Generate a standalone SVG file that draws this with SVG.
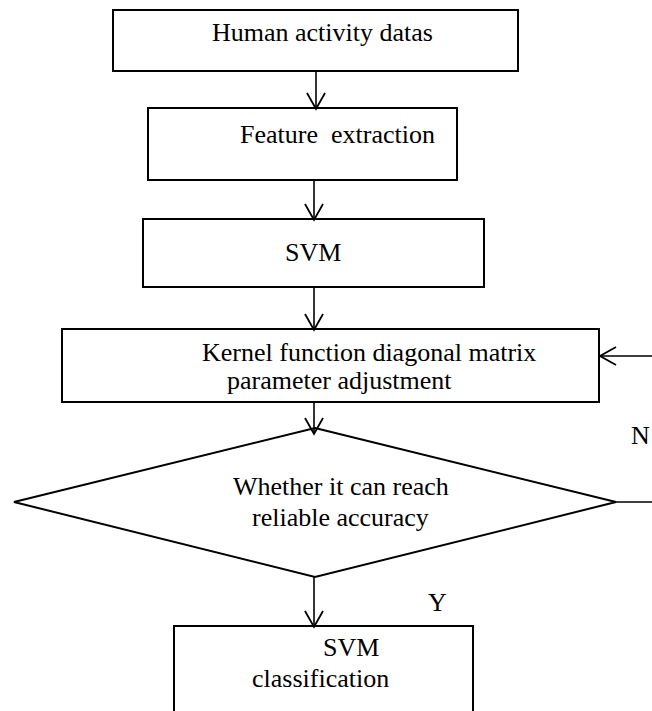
<svg xmlns="http://www.w3.org/2000/svg" width="652" height="711" viewBox="0 0 652 711">
<style>
.box{fill:#fff;stroke:#000;stroke-width:2}
.t{font-family:"Liberation Serif","Times New Roman",serif;font-size:26px;fill:#000;white-space:pre}
.c{fill:none;stroke:#000;stroke-width:1.6}
</style>
<defs>
<marker id="ah" viewBox="0 0 20 20" refX="17" refY="10" markerWidth="20" markerHeight="20" markerUnits="userSpaceOnUse" orient="auto">
<path d="M1,1 L17,10 L1,19" fill="none" stroke="#000" stroke-width="1.8"/>
</marker>
</defs>
<rect width="652" height="711" fill="#fff"/>
<g id="n1"><rect class="box" x="113" y="10" width="405" height="61"/><text class="t" x="212" y="41">Human activity datas</text></g>
<g id="n2"><rect class="box" x="148" y="108" width="309" height="72"/><text class="t" x="240" y="143">Feature  extraction</text></g>
<g id="n3"><rect class="box" x="143" y="219" width="341" height="68"/><text class="t" x="285" y="261">SVM</text></g>
<g id="n4"><rect class="box" x="62" y="329" width="537" height="73"/><text class="t" x="202" y="361">Kernel function diagonal matrix</text><text class="t" x="227" y="389">parameter adjustment</text></g>
<g id="n5"><polygon class="box" points="315,428 616,502 315,577 14,502"/><text class="t" x="233" y="495">Whether it can reach</text><text class="t" x="252" y="526">reliable accuracy</text></g>
<g id="n6"><rect class="box" x="174" y="626" width="299" height="100"/><text class="t" x="323" y="656">SVM</text><text class="t" x="252" y="687">classification</text></g>
<g id="connectors">
<line class="c" x1="316" y1="71" x2="316" y2="109" marker-end="url(#ah)"/>
<line class="c" x1="314" y1="180" x2="314" y2="220" marker-end="url(#ah)"/>
<line class="c" x1="314" y1="287" x2="314" y2="330" marker-end="url(#ah)"/>
<line class="c" x1="314" y1="402" x2="314" y2="434" marker-end="url(#ah)"/>
<line class="c" x1="314" y1="577" x2="314" y2="627" marker-end="url(#ah)"/>
<polyline class="c" points="616,502 680,502 680,356 600,356" marker-end="url(#ah)"/>
<text class="t" x="631" y="444">N</text>
<text class="t" x="428" y="611">Y</text>
</g>
</svg>
